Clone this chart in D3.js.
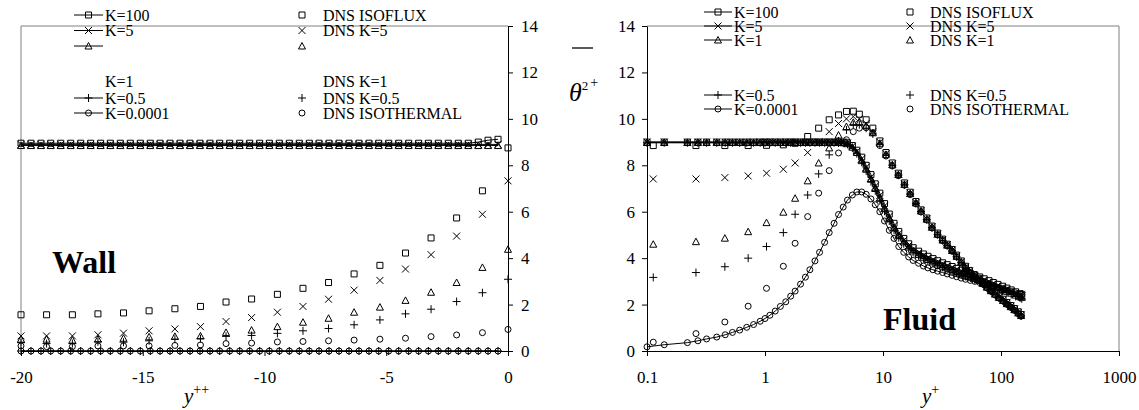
<!DOCTYPE html>
<html>
<head>
<meta charset="utf-8">
<script src="https://d3js.org/d3.v7.min.js"></script>
<style>
  body { margin: 0; background: #fff; }
</style>
</head>
<body>
<div id="chart"></div>
<script>
// ---- wall panel (solid side), y++ from -20 to 0 ----
const wallGridX = [
  -20, -19.59, -19.18, -18.78, -18.37, -17.96, -17.55, -17.14, -16.73, -16.33,
  -15.92, -15.51, -15.1, -14.69, -14.29, -13.88, -13.47, -13.06, -12.65, -12.24,
  -11.84, -11.43, -11.02, -10.61, -10.2, -9.8, -9.39, -8.98, -8.57, -8.16,
  -7.76, -7.35, -6.94, -6.53, -6.12, -5.71, -5.31, -4.9, -4.49, -4.08,
  -3.67, -3.27, -2.86, -2.45, -2.04, -1.63, -1.22, -0.82, -0.41
];
const wallModelK100 = [
  8.95, 8.95, 8.95, 8.95, 8.95, 8.95, 8.95, 8.95, 8.95, 8.95,
  8.95, 8.95, 8.95, 8.95, 8.95, 8.95, 8.95, 8.95, 8.95, 8.95,
  8.95, 8.95, 8.95, 8.95, 8.95, 8.95, 8.95, 8.95, 8.95, 8.95,
  8.95, 8.95, 8.95, 8.95, 8.95, 8.95, 8.95, 8.95, 8.95, 8.95,
  8.95, 8.95, 8.95, 8.95, 8.95, 8.95, 9.0, 9.08, 9.12
];
const wallModelK5 = [
  8.9, 8.9, 8.9, 8.9, 8.9, 8.9, 8.9, 8.9, 8.9, 8.9,
  8.9, 8.9, 8.9, 8.9, 8.9, 8.9, 8.9, 8.9, 8.9, 8.9,
  8.9, 8.9, 8.9, 8.9, 8.9, 8.9, 8.9, 8.9, 8.9, 8.9,
  8.9, 8.9, 8.9, 8.9, 8.9, 8.9, 8.9, 8.9, 8.9, 8.9,
  8.9, 8.9, 8.9, 8.9, 8.9, 8.9, 8.9, 8.9, 8.9
];
const wallModelK1 = [
  8.85, 8.85, 8.85, 8.85, 8.85, 8.85, 8.85, 8.85, 8.85, 8.85,
  8.85, 8.85, 8.85, 8.85, 8.85, 8.85, 8.85, 8.85, 8.85, 8.85,
  8.85, 8.85, 8.85, 8.85, 8.85, 8.85, 8.85, 8.85, 8.85, 8.85,
  8.85, 8.85, 8.85, 8.85, 8.85, 8.85, 8.85, 8.85, 8.85, 8.85,
  8.85, 8.85, 8.85, 8.85, 8.85, 8.85, 8.85, 8.85, 8.85
];
const wallModelK05 = [
  0, 0, 0, 0, 0, 0, 0, 0, 0, 0,
  0, 0, 0, 0, 0, 0, 0, 0, 0, 0,
  0, 0, 0, 0, 0, 0, 0, 0, 0, 0,
  0, 0, 0, 0, 0, 0, 0, 0, 0, 0,
  0, 0, 0, 0, 0, 0, 0, 0, 0
];
const wallModelK00001 = [
  0, 0, 0, 0, 0, 0, 0, 0, 0, 0,
  0, 0, 0, 0, 0, 0, 0, 0, 0, 0,
  0, 0, 0, 0, 0, 0, 0, 0, 0, 0,
  0, 0, 0, 0, 0, 0, 0, 0, 0, 0,
  0, 0, 0, 0, 0, 0, 0, 0, 0
];

const wallDnsX = [-20, -18.95, -17.89, -16.84, -15.79, -14.74, -13.68, -12.63, -11.58, -10.53,
  -9.47, -8.42, -7.37, -6.32, -5.26, -4.21, -3.16, -2.11, -1.05, 0];
const wallDnsIsoflux = [1.56, 1.56, 1.56, 1.6, 1.64, 1.73, 1.82, 1.92, 2.11, 2.24,
  2.44, 2.7, 2.95, 3.32, 3.69, 4.22, 4.87, 5.73, 6.9, 8.75];
const wallDnsK5 = [0.65, 0.65, 0.65, 0.7, 0.77, 0.87, 0.95, 1.05, 1.27, 1.44,
  1.67, 1.92, 2.23, 2.62, 3.04, 3.53, 4.15, 4.95, 5.89, 7.33];
const wallDnsK1 = [0.51, 0.51, 0.47, 0.51, 0.55, 0.61, 0.63, 0.65, 0.8, 0.9,
  1.05, 1.24, 1.41, 1.67, 1.89, 2.18, 2.53, 2.95, 3.6, 4.38];
const wallDnsK05 = [0.36, 0.32, 0.32, 0.4, 0.38, 0.44, 0.51, 0.53, 0.63, 0.67,
  0.76, 0.87, 0.97, 1.13, 1.34, 1.6, 1.8, 2.13, 2.51, 3.09];
const wallDnsIsothermal = [0.22, 0.19, 0.19, 0.22, 0.22, 0.22, 0.24, 0.26, 0.32, 0.34,
  0.39, 0.41, 0.44, 0.47, 0.51, 0.55, 0.62, 0.69, 0.79, 0.93];

// ---- fluid panel, y+ on log axis ----
const fluidGridX = [0.1, 0.14, 0.22, 0.27, 0.32, 0.39, 0.46, 0.53, 0.61, 0.7,
  0.8, 0.91, 1.0, 1.1, 1.22, 1.35, 1.5, 1.65, 1.8, 2.0,
  2.2, 2.4, 2.65, 2.9, 3.2, 3.5, 3.85, 4.2, 4.6, 5.0,
  5.5, 6.0, 6.6, 7.2, 7.9, 8.6, 9.4, 10.3, 11.3, 12.4,
  13.6, 15, 16.5, 18, 20, 22, 24, 26.5, 29, 32,
  35, 38.5, 42, 46, 50, 55, 60, 66, 72, 79,
  86, 94, 103, 112, 122, 133, 145, 150];
const fluidModelK100 = [9.0, 9.0, 9.0, 9.0, 9.0, 9.0, 9.0, 9.0, 9.0, 9.0,
  9.0, 9.0, 9.0, 9.0, 9.0, 9.0, 9.0, 9.0, 9.0, 9.0,
  9.0, 9.0, 9.0, 9.0, 9.0, 9.0, 9.0, 9.0, 9.0, 8.97,
  8.85, 8.65, 8.35, 8.0, 7.6, 7.2, 6.8, 6.35, 5.9, 5.5,
  5.15, 4.85, 4.62, 4.45, 4.3, 4.18, 4.08, 3.98, 3.89, 3.8,
  3.72, 3.64, 3.56, 3.48, 3.41, 3.34, 3.27, 3.19, 3.11, 3.03,
  2.95, 2.87, 2.79, 2.71, 2.63, 2.55, 2.47, 2.44];
const fluidModelK5 = [9.0, 9.0, 9.0, 9.0, 9.0, 9.0, 9.0, 9.0, 9.0, 9.0,
  9.0, 9.0, 9.0, 9.0, 9.0, 9.0, 9.0, 9.0, 9.0, 9.0,
  9.0, 9.0, 9.0, 9.0, 9.0, 9.0, 9.0, 9.0, 9.0, 8.95,
  8.82, 8.6, 8.28, 7.92, 7.5, 7.1, 6.7, 6.25, 5.8, 5.4,
  5.06, 4.77, 4.55, 4.38, 4.23, 4.11, 4.01, 3.91, 3.82, 3.73,
  3.65, 3.57, 3.49, 3.41, 3.34, 3.27, 3.2, 3.12, 3.04, 2.96,
  2.88, 2.8, 2.72, 2.64, 2.56, 2.48, 2.41, 2.38];
const fluidModelK1 = [8.98, 8.98, 8.98, 8.98, 8.98, 8.98, 8.98, 8.98, 8.98, 8.98,
  8.98, 8.98, 8.98, 8.98, 8.98, 8.98, 8.98, 8.98, 8.98, 8.98,
  8.98, 8.98, 8.98, 8.98, 8.98, 8.98, 8.98, 8.98, 8.97, 8.93,
  8.78, 8.55, 8.2, 7.83, 7.4, 7.0, 6.58, 6.13, 5.7, 5.3,
  4.97, 4.7, 4.48, 4.31, 4.16, 4.04, 3.94, 3.84, 3.75, 3.66,
  3.58, 3.5, 3.42, 3.34, 3.27, 3.2, 3.13, 3.05, 2.97, 2.89,
  2.81, 2.73, 2.65, 2.57, 2.49, 2.41, 2.34, 2.31];
const fluidModelK05 = [8.97, 8.97, 8.97, 8.97, 8.97, 8.97, 8.97, 8.97, 8.97, 8.97,
  8.97, 8.97, 8.97, 8.97, 8.97, 8.97, 8.97, 8.97, 8.97, 8.97,
  8.97, 8.97, 8.97, 8.97, 8.97, 8.97, 8.97, 8.96, 8.95, 8.9,
  8.74, 8.5, 8.13, 7.75, 7.3, 6.9, 6.47, 6.02, 5.6, 5.2,
  4.88, 4.62, 4.41, 4.25, 4.1, 3.98, 3.88, 3.78, 3.69, 3.6,
  3.52, 3.44, 3.36, 3.28, 3.21, 3.14, 3.07, 2.99, 2.91, 2.83,
  2.75, 2.67, 2.59, 2.51, 2.43, 2.35, 2.28, 2.25];
const fluidModelK00001 = [0.18, 0.27, 0.36, 0.44, 0.52, 0.6, 0.7, 0.8, 0.9, 1.02,
  1.14, 1.28, 1.4, 1.54, 1.72, 1.92, 2.12, 2.36, 2.58, 2.88,
  3.18, 3.5, 3.88, 4.25, 4.68, 5.1, 5.5, 5.88, 6.2, 6.5,
  6.72, 6.85, 6.85, 6.75, 6.55, 6.3, 6.0, 5.6, 5.2, 4.85,
  4.5, 4.25, 4.05, 3.9, 3.78, 3.66, 3.58, 3.5, 3.44, 3.38,
  3.32, 3.26, 3.2, 3.14, 3.09, 3.04, 3.0, 2.95, 2.9, 2.85,
  2.8, 2.74, 2.68, 2.62, 2.56, 2.5, 2.44, 2.42];

const fluidDnsX = [0.113, 0.26, 0.457, 0.72, 1.03, 1.43, 1.8, 2.3, 2.85, 3.5,
  4.2, 4.9, 5.6, 6.3, 7.2, 8.2, 9.4, 10.6, 12, 13.5,
  15.2, 17, 19, 21, 23.5, 26, 29, 32, 35, 38.5,
  42, 46, 50, 54, 59, 64, 70, 76, 82, 89,
  96, 104, 112, 121, 130, 140, 148];
const fluidDnsIsoflux = [8.85, 8.85, 8.85, 8.85, 8.86, 8.88, 8.95, 9.24, 9.6, 9.96,
  10.17, 10.32, 10.33, 10.2, 9.96, 9.6, 9.05, 8.55, 8.1, 7.66,
  7.24, 6.84, 6.44, 6.08, 5.73, 5.38, 5.08, 4.82, 4.6, 4.37,
  4.13, 3.88, 3.65, 3.47, 3.29, 3.13, 2.96, 2.8, 2.65, 2.5,
  2.36, 2.23, 2.09, 1.96, 1.83, 1.69, 1.57];
const fluidDnsK5 = [7.41, 7.41, 7.47, 7.54, 7.66, 7.83, 8.1, 8.55, 9.0, 9.45,
  9.8, 10.0, 10.1, 10.0, 9.8, 9.45, 9.0, 8.5, 8.05, 7.62,
  7.2, 6.8, 6.4, 6.05, 5.7, 5.35, 5.05, 4.8, 4.58, 4.35,
  4.1, 3.85, 3.62, 3.44, 3.26, 3.1, 2.93, 2.77, 2.62, 2.47,
  2.33, 2.2, 2.06, 1.93, 1.8, 1.66, 1.55];
const fluidDnsK1 = [4.6, 4.71, 4.86, 5.14, 5.53, 5.98, 6.58, 7.33, 8.1, 8.75,
  9.3, 9.67, 9.85, 9.85, 9.7, 9.4, 8.95, 8.47, 8.02, 7.6,
  7.18, 6.78, 6.38, 6.03, 5.68, 5.33, 5.03, 4.78, 4.56, 4.33,
  4.08, 3.83, 3.6, 3.42, 3.24, 3.08, 2.91, 2.75, 2.6, 2.45,
  2.31, 2.18, 2.04, 1.91, 1.78, 1.64, 1.53];
const fluidDnsK05 = [3.17, 3.38, 3.63, 4.0, 4.5, 5.1, 5.89, 6.72, 7.63, 8.45,
  9.05, 9.52, 9.75, 9.75, 9.6, 9.35, 8.9, 8.44, 8.0, 7.58,
  7.16, 6.76, 6.36, 6.01, 5.66, 5.31, 5.01, 4.76, 4.54, 4.31,
  4.06, 3.81, 3.58, 3.4, 3.22, 3.06, 2.89, 2.73, 2.58, 2.43,
  2.29, 2.16, 2.02, 1.89, 1.76, 1.62, 1.51];
const fluidDnsIsothermal = [0.38, 0.75, 1.25, 1.93, 2.7, 3.65, 4.64, 5.79, 6.8, 7.77,
  8.53, 9.1, 9.45, 9.6, 9.62, 9.4, 8.85, 8.4, 7.97, 7.55,
  7.14, 6.74, 6.34, 5.99, 5.64, 5.3, 5.0, 4.75, 4.53, 4.3,
  4.05, 3.8, 3.57, 3.39, 3.21, 3.05, 2.88, 2.72, 2.57, 2.42,
  2.28, 2.15, 2.01, 1.88, 1.75, 1.61, 1.5];

// ticks and labels
const yTicks = [0, 2, 4, 6, 8, 10, 12, 14];
const wallTicks = [-20, -15, -10, -5, 0];
const fluidTicks = [0.1, 1, 10, 100, 1000];
const markerTypes = ['square', 'cross', 'triangle', 'plus', 'circle'];
const modelLabels = ['K=100', 'K=5', 'K=1', 'K=0.5', 'K=0.0001'];
const dnsLabels = ['DNS ISOFLUX', 'DNS K=5', 'DNS K=1', 'DNS K=0.5', 'DNS ISOTHERMAL'];

const FONT = "'Liberation Serif', 'Times New Roman', serif";
const width = 1139;
const height = 410;

const svg = d3.select('#chart').append('svg')
  .attr('width', width)
  .attr('height', height)
  .style('font-family', FONT);

const y = d3.scaleLinear().domain([0, 14]).range([351, 26]);
const xWall = d3.scaleLinear().domain([-20, 0]).range([21, 508]);
const xFluid = d3.scaleLog().domain([0.1, 1000]).range([647, 1119]);

const markerPaths = {
  square: 'M-3,-3h6v6h-6Z',
  cross: 'M-3.5,-3.5L3.5,3.5M-3.5,3.5L3.5,-3.5',
  triangle: 'M0,-3.5L3.5,3L-3.5,3Z',
  plus: 'M-4,0H4M0,-4V4',
  circle: 'M3,0A3,3 0 1,1 -3,0A3,3 0 1,1 3,0Z'
};

function addText(parent, x, yy, size, str) {
  return parent.append('text')
    .attr('x', x).attr('y', yy)
    .style('font-family', FONT)
    .style('font-size', size + 'px')
    .attr('fill', '#000')
    .text(str);
}

function drawSeries(g, xs, ys, xScale, marker, withLine) {
  const pts = xs.map((v, i) => [v, ys[i]]);
  if (withLine) {
    g.append('path')
      .datum(pts)
      .attr('d', d3.line().x(d => xScale(d[0])).y(d => y(d[1])))
      .attr('fill', 'none')
      .attr('stroke', '#000')
      .attr('stroke-width', 1);
  }
  g.append('g').selectAll('path')
    .data(pts)
    .join('path')
    .attr('transform', d => `translate(${xScale(d[0])},${y(d[1])})`)
    .attr('d', markerPaths[marker])
    .attr('fill', 'none')
    .attr('stroke', '#000')
    .attr('stroke-width', 1);
}

// plot area borders (grey)
svg.append('path')
  .attr('d', `M${xWall(-20)},${y(0)}V${y(14)}H${xWall(0)}`)
  .attr('fill', 'none').attr('stroke', '#808080').attr('stroke-width', 1);
svg.append('path')
  .attr('d', `M${xFluid(0.1)},${y(14)}H${xFluid(1000)}V${y(0)}`)
  .attr('fill', 'none').attr('stroke', '#808080').attr('stroke-width', 1);

// wall panel
const wall = svg.append('g');
[wallModelK100, wallModelK5, wallModelK1, wallModelK05, wallModelK00001].forEach((ys, i) => {
  drawSeries(wall, wallGridX, ys, xWall, markerTypes[i], true);
});
[wallDnsIsoflux, wallDnsK5, wallDnsK1, wallDnsK05, wallDnsIsothermal].forEach((ys, i) => {
  drawSeries(wall, wallDnsX, ys, xWall, markerTypes[i], false);
});

// fluid panel
const fluid = svg.append('g');
[fluidModelK100, fluidModelK5, fluidModelK1, fluidModelK05, fluidModelK00001].forEach((ys, i) => {
  drawSeries(fluid, fluidGridX, ys, xFluid, markerTypes[i], true);
});
[fluidDnsIsoflux, fluidDnsK5, fluidDnsK1, fluidDnsK05, fluidDnsIsothermal].forEach((ys, i) => {
  drawSeries(fluid, fluidDnsX, ys, xFluid, markerTypes[i], false);
});

// axes
function styleAxis(g) {
  g.attr('font-family', null).attr('font-size', null);
  g.selectAll('path, line').attr('stroke', '#000').attr('stroke-width', 1);
  g.selectAll('text')
    .style('font-family', FONT)
    .style('font-size', '17px')
    .attr('fill', '#000');
}

svg.append('g')
  .attr('transform', `translate(${xWall(0)},0)`)
  .call(d3.axisRight(y).tickValues(yTicks).tickSize(5).tickSizeOuter(0).tickPadding(8))
  .call(styleAxis);
svg.append('g')
  .attr('transform', `translate(0,${y(0)})`)
  .call(d3.axisBottom(xWall).tickValues(wallTicks).tickFormat(d => String(d))
    .tickSize(5).tickSizeOuter(0).tickPadding(15))
  .call(styleAxis);

svg.append('g')
  .attr('transform', `translate(${xFluid(0.1)},0)`)
  .call(d3.axisLeft(y).tickValues(yTicks).tickSize(5).tickSizeOuter(0).tickPadding(7))
  .call(styleAxis);
svg.append('g')
  .attr('transform', `translate(0,${y(0)})`)
  .call(d3.axisBottom(xFluid).tickValues(fluidTicks).tickFormat(d => String(d))
    .tickSize(5).tickSizeOuter(0).tickPadding(15))
  .call(styleAxis);

// legends
function drawLegend(cfg) {
  const g = svg.append('g');
  markerTypes.forEach((m, i) => {
    const ly = cfg.markerRows[i];
    g.append('line')
      .attr('x1', cfg.lineX0).attr('x2', cfg.lineX1)
      .attr('y1', ly).attr('y2', ly)
      .attr('stroke', '#000').attr('stroke-width', 1);
    g.append('path')
      .attr('transform', `translate(${(cfg.lineX0 + cfg.lineX1) / 2},${ly})`)
      .attr('d', markerPaths[m]).attr('fill', 'none').attr('stroke', '#000');
    addText(g, cfg.labelX, cfg.labelRows[i] + 5.5, 16, modelLabels[i]);
    g.append('path')
      .attr('transform', `translate(${cfg.dnsMarkerX},${ly})`)
      .attr('d', markerPaths[m]).attr('fill', 'none').attr('stroke', '#000');
    addText(g, cfg.dnsLabelX, cfg.labelRows[i] + 5.5, 16, dnsLabels[i]);
  });
}

drawLegend({
  markerRows: [15, 30.5, 46, 98, 113],
  labelRows: [15, 30.5, 81.5, 98, 113],
  lineX0: 74, lineX1: 103, labelX: 105,
  dnsMarkerX: 302, dnsLabelX: 323
});
drawLegend({
  markerRows: [12, 26, 40, 95, 109],
  labelRows: [12, 26, 40, 95, 109],
  lineX0: 704, lineX1: 732, labelX: 734,
  dnsMarkerX: 910, dnsLabelX: 930
});

// panel names
addText(svg, 52, 273, 32, 'Wall').style('font-weight', 'bold');
addText(svg, 883, 330, 32, 'Fluid').style('font-weight', 'bold');

// axis titles
const wallTitle = addText(svg, 184, 403, 21, null);
wallTitle.append('tspan').style('font-style', 'italic').text('y');
wallTitle.append('tspan').style('font-size', '14px').attr('dy', -9).text('++');

const fluidTitle = addText(svg, 922, 403, 21, null);
fluidTitle.append('tspan').style('font-style', 'italic').text('y');
fluidTitle.append('tspan').style('font-size', '14px').attr('dy', -9).text('+');

svg.append('line')
  .attr('x1', 572).attr('x2', 593).attr('y1', 48).attr('y2', 48)
  .attr('stroke', '#000').attr('stroke-width', 1.3);
const thetaTitle = addText(svg, 569, 101, 26, null);
thetaTitle.append('tspan').style('font-style', 'italic').text('θ');
thetaTitle.append('tspan').style('font-size', '13px').attr('dy', -11).text('2');
thetaTitle.append('tspan').style('font-size', '14px').attr('dx', 2).attr('dy', -3).text('+');
</script>
</body>
</html>
